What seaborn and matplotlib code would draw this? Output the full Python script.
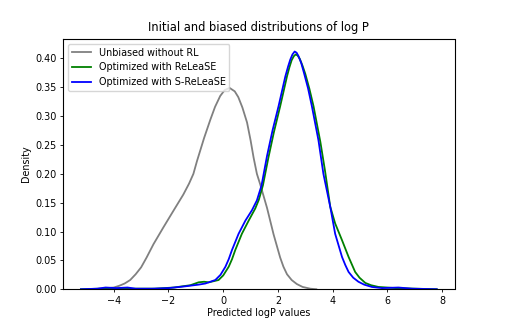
import matplotlib
matplotlib.use("Agg")
import matplotlib.pyplot as plt
from matplotlib.ticker import MultipleLocator, FormatStrFormatter
import seaborn as sns

# density curves
x_unbiased = [-4.9, -4.4, -4.0, -3.8, -3.6, -3.4, -3.2, -3.0, -2.8, -2.55, -2.19, -1.82, -1.46, -1.25,
              -1.09, -0.96, -0.83, -0.7, -0.47, -0.3, -0.11, 0.05, 0.23, 0.42, 0.55, 0.7, 0.87, 1.0,
              1.11, 1.23, 1.35, 1.6, 1.84, 2.08, 2.2, 2.33, 2.5, 2.69, 2.9, 3.18, 3.4]
y_unbiased = [0.0, 0.001, 0.003, 0.006, 0.010, 0.016, 0.026, 0.038, 0.055, 0.078, 0.107, 0.136, 0.164, 0.183,
              0.200, 0.222, 0.242, 0.262, 0.294, 0.316, 0.335, 0.345, 0.349, 0.343, 0.333, 0.315, 0.289, 0.258,
              0.228, 0.200, 0.182, 0.141, 0.095, 0.055, 0.039, 0.026, 0.016, 0.009, 0.004, 0.001, 0.0]

x_release = [-5.2, -4.5, -3.5, -2.5, -1.8, -1.2, -0.9, -0.7, -0.53, -0.17, 0.0, 0.2, 0.32, 0.44, 0.68,
             0.93, 1.17, 1.3, 1.45, 1.65, 1.85, 2.08, 2.33, 2.42, 2.5, 2.58, 2.65, 2.72, 2.8, 2.9, 3.0,
             3.15, 3.3, 3.55, 3.72, 3.91, 4.09, 4.34, 4.58, 4.82, 4.98, 5.19, 5.4, 5.67, 6.3, 7.0, 7.8]
y_release = [0.0, 0.001, 0.001, 0.001, 0.003, 0.007, 0.012, 0.013, 0.012, 0.016, 0.024, 0.039, 0.052, 0.068, 0.096,
             0.119, 0.140, 0.155, 0.18, 0.228, 0.272, 0.317, 0.369, 0.385, 0.397, 0.404, 0.407, 0.405, 0.399, 0.387, 0.373,
             0.347, 0.317, 0.255, 0.205, 0.143, 0.114, 0.085, 0.056, 0.030, 0.020, 0.011, 0.007, 0.004, 0.002, 0.001, 0.0]

x_srelease = [-5.2, -4.6, -4.3, -3.9, -3.5, -3.2, -2.6, -2.0, -1.4, -0.9, -0.65, -0.29, -0.1, 0.08, 0.2,
              0.32, 0.56, 0.81, 1.05, 1.23, 1.4, 1.6, 1.8, 2.02, 2.27, 2.37, 2.45, 2.53, 2.61, 2.68, 2.75,
              2.85, 2.95, 3.1, 3.24, 3.48, 3.66, 3.91, 4.09, 4.34, 4.46, 4.58, 4.75, 4.94, 5.15, 5.43, 5.8,
              6.4, 6.9, 7.8]
y_srelease = [0.0, 0.001, 0.003, 0.002, 0.003, 0.001, 0.001, 0.002, 0.005, 0.008, 0.010, 0.016, 0.025, 0.039, 0.052,
              0.068, 0.096, 0.119, 0.137, 0.154, 0.18, 0.231, 0.275, 0.317, 0.369, 0.386, 0.398, 0.407, 0.412, 0.410, 0.404,
              0.392, 0.375, 0.348, 0.317, 0.258, 0.200, 0.143, 0.096, 0.056, 0.042, 0.030, 0.020, 0.013, 0.008, 0.004, 0.002,
              0.003, 0.001, 0.0]

fig, ax = plt.subplots(figsize=(5.05, 3.25), dpi=100)

sns.lineplot(x=x_unbiased, y=y_unbiased, color="grey", lw=1.3, label="Unbiased without RL", ax=ax)
sns.lineplot(x=x_release, y=y_release, color="green", lw=1.3, label="Optimized with ReLeaSE", ax=ax)
sns.lineplot(x=x_srelease, y=y_srelease, color="blue", lw=1.3, label="Optimized with S-ReLeaSE", ax=ax)

ax.set_ylim(0, 0.4337)
ax.yaxis.set_major_locator(MultipleLocator(0.05))
ax.yaxis.set_major_formatter(FormatStrFormatter("%.2f"))

ax.set_title("Initial and biased distributions of log P", fontsize=8.3)
ax.set_xlabel("Predicted logP values", fontsize=6.9, labelpad=2)
ax.set_ylabel("Density", fontsize=6.9, labelpad=3)
ax.tick_params(labelsize=6.9, length=2.5, width=0.6, pad=2)
for s in ax.spines.values():
    s.set_linewidth(0.8)
ax.legend(loc="upper left", fontsize=6.9)

plt.savefig("out.png", dpi=100)
